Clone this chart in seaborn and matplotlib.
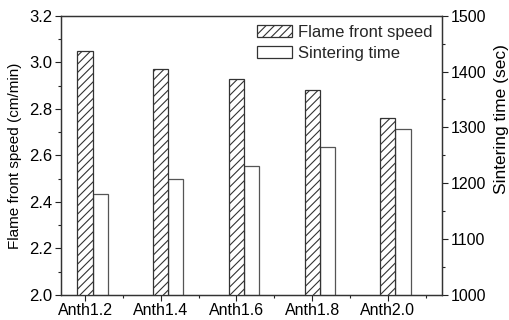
import numpy as np
import pandas as pd
import matplotlib
matplotlib.use("Agg")
import matplotlib.pyplot as plt
import seaborn as sns
from matplotlib.patches import Patch
from matplotlib.ticker import MultipleLocator, FixedLocator, FormatStrFormatter

# Data
categories = ["Anth1.2", "Anth1.4", "Anth1.6", "Anth1.8", "Anth2.0"]
flame_speed = [3.05, 2.97, 2.93, 2.88, 2.76]          # cm/min
sintering_time = [1180, 1207, 1231, 1265, 1297]       # sec

sns.set_theme(style="ticks")
plt.rcParams["font.family"] = ["Liberation Sans", "DejaVu Sans"]
plt.rcParams["hatch.linewidth"] = 0.8
plt.rcParams["hatch.color"] = "#222222"

fig = plt.figure(figsize=(5.1, 3.2), dpi=100)
ax = fig.add_axes([0.1196, 0.078, 0.8667 - 0.1196, 0.951 - 0.078])
ax2 = ax.twinx()

bar_w = 0.2
pos = np.arange(len(categories))
df = pd.DataFrame({"pos": pos, "cat": categories,
                   "flame": flame_speed, "sinter": sintering_time})
df["pos2"] = df["pos"] + bar_w

sns.barplot(data=df, x="pos", y="flame", native_scale=True, width=bar_w,
            color="white", edgecolor="#333333", linewidth=0.9,
            hatch="////", ax=ax, errorbar=None)
sns.barplot(data=df, x="pos2", y="sinter", native_scale=True, width=bar_w,
            color="white", edgecolor="#555555", linewidth=0.9,
            ax=ax2, errorbar=None)

tick_fs = 11.5
ax.set_xlim(-0.317, 4.716)
ax.set_ylim(2.0, 3.2)
ax2.set_ylim(1000, 1500)

ax.xaxis.set_major_locator(FixedLocator(list(pos)))
ax.set_xticklabels(categories)
ax.xaxis.set_minor_locator(FixedLocator(list(pos + 0.5)))
ax.yaxis.set_major_locator(MultipleLocator(0.2))
ax.yaxis.set_minor_locator(MultipleLocator(0.1))
ax.yaxis.set_major_formatter(FormatStrFormatter("%.1f"))
ax2.yaxis.set_major_locator(MultipleLocator(100))
ax2.yaxis.set_minor_locator(MultipleLocator(50))

for a in (ax, ax2):
    a.tick_params(which="major", direction="out", length=4, width=0.8,
                  labelsize=tick_fs, color="#222222", labelcolor="black", pad=2)
    a.tick_params(which="minor", direction="out", length=2.5, width=0.8,
                  color="#222222")
    for s in a.spines.values():
        s.set_visible(True)
        s.set_linewidth(0.9)
        s.set_color("#333333")
ax.tick_params(axis="y", which="major", labelsize=12)

ax.set_xlabel("")
ax.set_ylabel("Flame front speed (cm/min)", fontsize=11, labelpad=5, color="black")
ax2.set_ylabel("Sintering time (sec)", fontsize=12.5, color="black")
ax2.yaxis.set_label_coords(1.137, 0.63)

handles = [Patch(facecolor="white", edgecolor="#333333", hatch="////", linewidth=0.9),
           Patch(facecolor="white", edgecolor="#333333", linewidth=0.9)]
ax.legend(handles, ["Flame front speed", "Sintering time"], loc="upper right",
          frameon=False, fontsize=12, handlelength=2.1, handleheight=0.7,
          handletextpad=0.36, borderaxespad=0.15, labelspacing=0.35)
ax.set_zorder(ax2.get_zorder() + 1)
ax.patch.set_visible(False)

fig.savefig("out.png", dpi=100)
